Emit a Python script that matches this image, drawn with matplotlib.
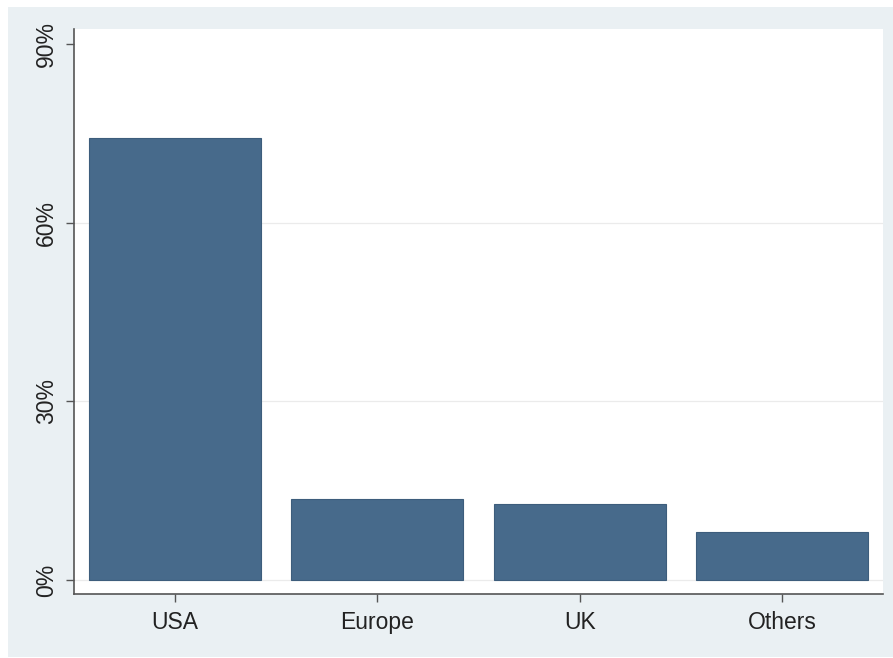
import matplotlib
matplotlib.use("Agg")
import matplotlib.pyplot as plt
from matplotlib.patches import Rectangle
from matplotlib.ticker import FixedLocator

# Share of total by region (percent)
regions = ["USA", "Europe", "UK", "Others"]
shares = [74.2, 13.6, 12.75, 8.05]
y_ticks = [0, 30, 60, 90]
y_tick_labels = ["0%", "30%", "60%", "90%"]

plt.rcParams["font.family"] = ["Liberation Sans", "DejaVu Sans"]

fig = plt.figure(figsize=(8.93, 6.58), dpi=100, facecolor="white")

# Light bluish graph region behind the plot
fig.patches.append(Rectangle((8 / 893, 1 / 658), 885 / 893, 650 / 658,
                             transform=fig.transFigure, facecolor="#eaf0f3",
                             edgecolor="none", zorder=-1))

ax = fig.add_axes([74 / 893, (658 - 594) / 658, (883 - 74) / 893, (594 - 29) / 658])
ax.set_zorder(2)
ax.set_facecolor("white")

x = list(range(len(regions)))
ax.bar(x, shares, width=0.85, color="#476a8b", edgecolor="#3d5d7c",
       linewidth=0.8, zorder=3)

ax.set_xlim(-0.5, len(regions) - 0.5)
ax.set_ylim(-2.35, 92.5)

ax.yaxis.set_major_locator(FixedLocator(y_ticks))
ax.set_yticklabels(y_tick_labels, rotation=90, va="center", fontsize=16.5,
                   color="#222222")
ax.set_xticks(x)
ax.set_xticklabels(regions, fontsize=16.5, color="#222222")

# Horizontal grid lines below the top tick
for yv in y_ticks[:-1]:
    ax.axhline(yv, color="#ebebeb", linewidth=0.9, zorder=1)

for side in ("top", "right"):
    ax.spines[side].set_visible(False)
for side in ("left", "bottom"):
    ax.spines[side].set_color("#555555")
    ax.spines[side].set_linewidth(1.2)

ax.tick_params(axis="both", direction="out", length=5.5, width=1.0,
               color="#555555")
ax.tick_params(axis="y", pad=6)
ax.tick_params(axis="x", pad=7)

fig.savefig("out.png", dpi=100, facecolor="white")
